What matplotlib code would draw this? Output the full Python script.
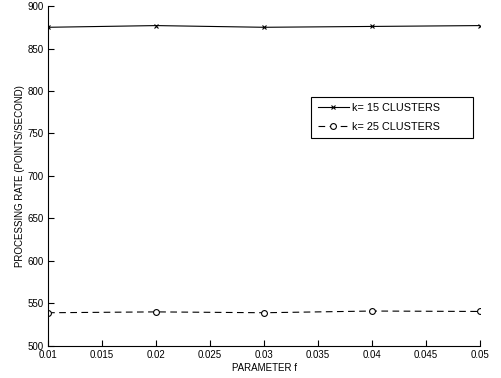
import matplotlib
matplotlib.use("Agg")
import matplotlib.pyplot as plt

plt.rcParams['font.family'] = ['Liberation Sans', 'DejaVu Sans']

f_vals = [0.01, 0.02, 0.03, 0.04, 0.05]
rate_k15 = [875, 877, 875, 876, 877]
rate_k25 = [539, 540, 539, 541, 540.5]
labels = ['k= 15 CLUSTERS', 'k= 25 CLUSTERS']

fig = plt.figure(figsize=(5.01, 3.78), dpi=100)
ax = fig.add_axes([0.096, 0.085, 0.862, 0.899])

ax.plot(f_vals, rate_k15, color='black', lw=0.8, marker='x', ms=3, mew=0.8, label=labels[0])
ax.plot(f_vals, rate_k25, color='black', lw=0.8, ls=(0, (6, 4)), marker='o', ms=4.2,
        mfc='white', mew=0.8, label=labels[1])

ax.set_xlim(0.01, 0.05)
ax.set_ylim(500, 900)
ax.set_xticks([0.01, 0.015, 0.02, 0.025, 0.03, 0.035, 0.04, 0.045, 0.05])
ax.set_xticklabels(['0.01', '0.015', '0.02', '0.025', '0.03', '0.035', '0.04', '0.045', '0.05'])
ax.set_yticks(range(500, 901, 50))
ax.tick_params(direction='in', length=4, width=0.8, labelsize=7, pad=3)
ax.spines['top'].set_visible(False)
ax.spines['right'].set_visible(False)
ax.spines['left'].set_linewidth(0.8)
ax.spines['bottom'].set_linewidth(0.8)

ax.set_xlabel('PARAMETER f', fontsize=7, labelpad=2)
ax.set_ylabel('PROCESSING RATE (POINTS/SECOND)', fontsize=7, labelpad=2)

leg = ax.legend(loc='upper left', bbox_to_anchor=(0.609, 0.613, 0.375, 0.12), mode='expand',
                fontsize=7.8, fancybox=False, edgecolor='black', framealpha=1,
                handlelength=2.9, handletextpad=0.3, borderpad=0.6, labelspacing=0.8,
                borderaxespad=0)
leg.get_frame().set_linewidth(0.8)

fig.savefig('out.png', dpi=100)
